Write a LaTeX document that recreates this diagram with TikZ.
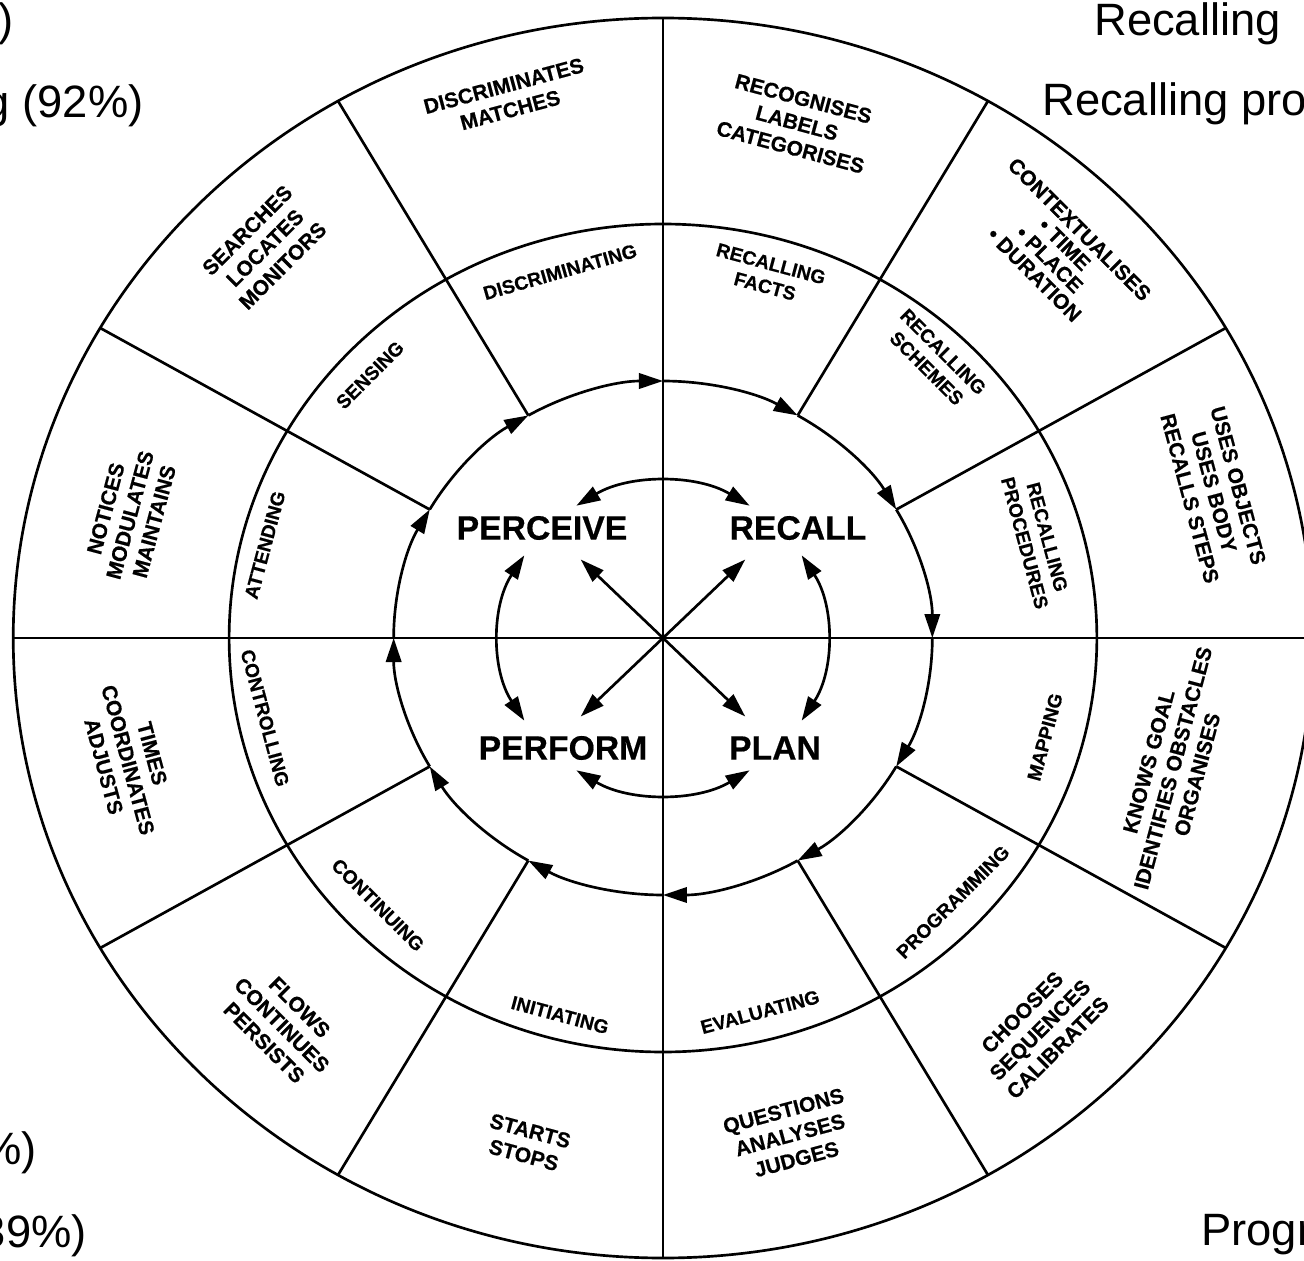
\documentclass[tikz,border=0pt]{standalone}
\usepackage{fontspec}
\setmainfont{Liberation Sans}
\newfontfamily\heavyfont{Liberation Sans}[BoldFeatures={FakeBold=0.5}]
\usetikzlibrary{arrows.meta}
\begin{document}
\begin{tikzpicture}[x=0.75pt,y=0.75pt,line width=2pt,
  lblout/.style={font=\heavyfont\bfseries\fontsize{15.8}{18.8}\selectfont, align=center, inner sep=0pt},
  lblin/.style={font=\heavyfont\bfseries\fontsize{14.4}{17.5}\selectfont, align=center, inner sep=0pt},
  lblcore/.style={font=\heavyfont\bfseries\fontsize{25.3}{28}\selectfont, inner sep=0pt},
  lblside/.style={font=\fontsize{34}{38}\selectfont, inner sep=0pt},
  tipone/.style={-{Triangle[length=18pt,width=11.5pt]}},
  tiptwo/.style={{Triangle[length=18pt,width=11.5pt]}-{Triangle[length=18pt,width=11.5pt]}}]
\useasboundingbox (-663,-623) rectangle (641,638);
\clip (-663,-623) rectangle (641,638);
\fill[white] (-663,-623) rectangle (641,638);

\begin{scope}[xscale=1.048]
  \coordinate (O) at (0,0);
  \draw (O) circle[radius=620];
  \draw (O) circle[radius=414];
  \coordinate (E) at (0:620);
  \coordinate (W) at (180:620);
  \coordinate (N) at (90:620);
  \coordinate (S) at (270:620);
  \draw (W) -- (E);
  \draw (S) -- (N);
  \foreach \a in {30,60,120,150,210,240,300,330}{
    \coordinate (sa\a) at (\a:257);
    \coordinate (sb\a) at (\a:620);
    \draw (sa\a) -- (sb\a);
  }
  \foreach \a in {0,30,...,330}{
    \pgfmathsetmacro{\b}{\a+30}
    \draw[tipone] (\b:257) arc[start angle=\b, end angle=\a, radius=257];
  }
  \foreach \c in {0,90,180,270}{
    \pgfmathsetmacro{\p}{\c+32}
    \pgfmathsetmacro{\q}{\c-32}
    \draw[tiptwo] (\p:156) arc[start angle=\p, end angle=\q, radius=156];
  }
  \foreach \a in {45,135,225,315}{
    \coordinate (d\a) at (\a:111);
    \draw[tipone] (O) -- (d\a);
  }
\end{scope}

% centre words
\node[lblcore] (perceive) at (-121,110) {PERCEIVE};
\node[lblcore] (recall) at (135,110) {RECALL};
\node[lblcore] (perform) at (-100,-110) {PERFORM};
\node[lblcore] (plan) at (112,-110) {PLAN};

% inner ring
\node[lblin,rotate=16] (i1) at (-103,366) {DISCRIMINATING};
\node[lblin,rotate=-15] (i2) at (105,363) {RECALLING\\FACTS};
\node[lblin,rotate=-45] (i3) at (272,278) {RECALLING\\SCHEMES};
\node[lblin,rotate=-75] (i4) at (373,98) {RECALLING\\PROCEDURES};
\node[lblin,rotate=75] (i5) at (382,-99) {MAPPING};
\node[lblin,rotate=45] (i6) at (290,-264) {PROGRAMMING};
\node[lblin,rotate=15] (i7) at (97,-374) {EVALUATING};
\node[lblin,rotate=-15] (i8) at (-103,-377) {INITIATING};
\node[lblin,rotate=-45] (i9) at (-285,-267) {CONTINUING};
\node[lblin,rotate=-75] (i10) at (-398,-80) {CONTROLLING};
\node[lblin,rotate=75] (i11) at (-398,93) {ATTENDING};
\node[lblin,rotate=45] (i12) at (-293,263) {SENSING};

% outer ring
\node[lblout,rotate=15] (o1) at (-156,540) {DISCRIMINATES\\MATCHES};
\node[lblout,rotate=-15] (o2) at (134,515) {RECOGNISES\\LABELS\\CATEGORISES};
\node[lblout,rotate=-45,font=\heavyfont\bfseries\fontsize{15.8}{16}\selectfont] (o3) at (394,386) {CONTEXTUALISES\\• TIME\\• PLACE\\• DURATION};
\node[lblout,rotate=-75] (o4) at (551,146) {USES OBJECTS\\USES BODY\\RECALLS STEPS};
\node[lblout,rotate=75] (o5) at (510,-130) {KNOWS GOAL\\IDENTIFIES OBSTACLES\\ORGANISES};
\node[lblout,rotate=45] (o6) at (377,-392) {CHOOSES\\SEQUENCES\\CALIBRATES};
\node[lblout,rotate=15] (o7) at (127,-497) {QUESTIONS\\ANALYSES\\JUDGES};
\node[lblout,rotate=-15] (o8) at (-136,-505) {STARTS\\STOPS};
\node[lblout,rotate=-45] (o9) at (-381,-387) {FLOWS\\CONTINUES\\PERSISTS};
\node[lblout,rotate=-75] (o10) at (-535,-122) {TIMES\\COORDINATES\\ADJUSTS};
\node[lblout,rotate=75] (o11) at (-533,123) {NOTICES\\MODULATES\\MAINTAINS};
\node[lblout,rotate=45] (o12) at (-398,390) {SEARCHES\\LOCATES\\MONITORS};

% cut-off side texts
\node[lblside,anchor=base east] (t1) at (-648,602) {)};
\node[lblside,anchor=base east] (t2) at (-518,520) {ng (92\%)};
\node[lblside,anchor=base west] (t3) at (430,602) {Recalling};
\node[lblside,anchor=base west] (t4) at (378,522) {Recalling pro};
\node[lblside,anchor=base east] (t5) at (-625,-526) {\%)};
\node[lblside,anchor=base east] (t6) at (-575,-609) {39\%)};
\node[lblside,anchor=base west] (t7) at (537,-607) {Progr};
\end{tikzpicture}
\end{document}
